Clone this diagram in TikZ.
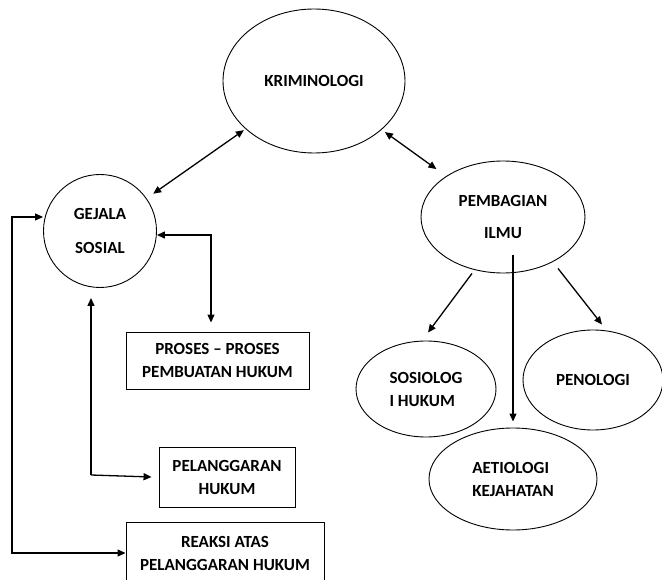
\documentclass[tikz,border=0pt]{standalone}
\usepackage{fontspec}
\setmainfont{Carlito}
\usetikzlibrary{arrows.meta, positioning, shapes.geometric}

\begin{document}
\begin{tikzpicture}[
    x=1pt, y=-1pt,
    every node/.style={draw, line width=0.9pt, font=\fontsize{17}{23}\selectfont\bfseries, align=center, inner sep=2pt},
    bubble/.style={ellipse},
    ring/.style={circle},
    box/.style={rectangle},
    arrow/.style={-{Triangle[length=8pt,width=7pt]}, line width=1.3pt},
    both/.style={{Triangle[length=8pt,width=7pt]}-{Triangle[length=8pt,width=7pt]}, line width=1.3pt}
]
\useasboundingbox (0,0) rectangle (662,580);

% Nodes
\node[bubble, minimum width=182pt, minimum height=144pt] (krim) at (314,81) {KRIMINOLOGI};
\node[ring, minimum size=113pt] (gejala) at (100,231) {GEJALA\\[11pt]SOSIAL};
\node[bubble, minimum width=164pt, minimum height=112pt] (bagi) at (503,217) {PEMBAGIAN\\[9pt]ILMU};
\node[bubble, minimum width=140pt, minimum height=96pt, align=left] (sosio) at (426,389) {SOSIOLOG\\I HUKUM};
\node[bubble, minimum width=140pt, minimum height=100pt] (peno) at (593,380) {PENOLOGI};
\node[bubble, minimum width=168pt, minimum height=102pt, align=left] (aetio) at (513,479) {AETIOLOGI\\KEJAHATAN};
\node[box, minimum width=183pt, minimum height=57pt] (proses) at (217.5,360.5) {PROSES -- PROSES\\PEMBUATAN HUKUM};
\node[box, minimum width=136pt, minimum height=60pt] (langgar) at (227,477) {PELANGGARAN\\HUKUM};
\node[box, minimum width=198pt, minimum height=62pt] (reaksi) at (225,553) {REAKSI ATAS\\PELANGGARAN HUKUM};

\coordinate (lt) at (12,217);
\coordinate (lb) at (12,553);
\coordinate (up) at (91,475);

% Edges
\draw[both, shorten <=2pt, shorten >=8pt] (krim) -- (gejala);
\draw[both, shorten <=4pt, shorten >=12pt] (krim) -- (bagi);
\draw[both] ([yshift=-4pt]gejala.east) -| ([xshift=-6.5pt, yshift=9pt]proses.north);
\draw[arrow] (up) -- ([xshift=-9pt, yshift=-10pt]gejala.south);
\draw[arrow] (up) -- ([xshift=-7pt]langgar.west);
\draw[both] (gejala.west |- lt) -- (lt) -- (lb) -- (reaksi.west);
\draw[arrow] ([xshift=-31pt]bagi.south) -- ([xshift=2pt, yshift=8pt]sosio.north);
\draw[arrow] ([xshift=55pt, yshift=5pt]bagi.south) -- ([xshift=9pt, yshift=5pt]peno.north);
\draw[arrow] ([xshift=10pt, yshift=-38pt]bagi.center) -- ([yshift=6pt]aetio.north);

\end{tikzpicture}
\end{document}
